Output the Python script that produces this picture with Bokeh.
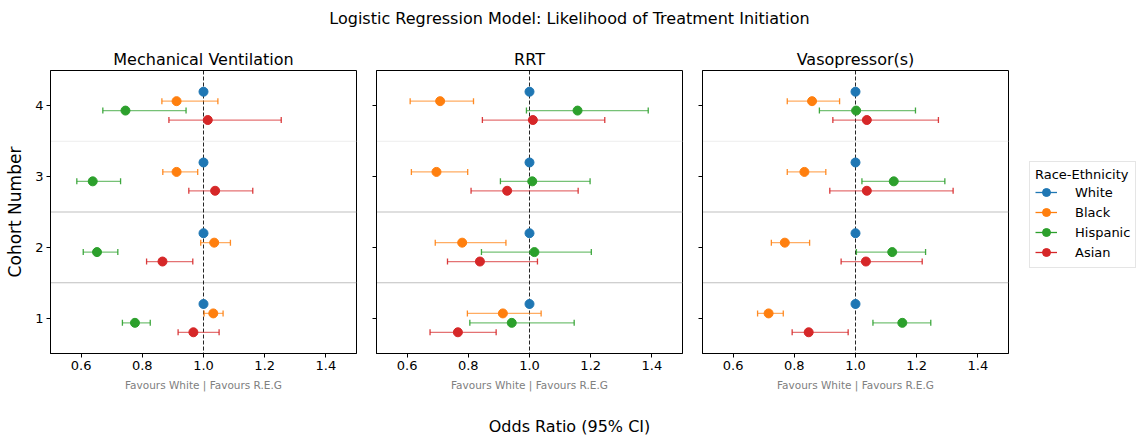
import numpy as np
from bokeh.plotting import figure
from bokeh.layouts import row, column
from bokeh.models import Range1d, Span, FixedTicker, Legend, LegendItem, ColumnDataSource
from bokeh.core.properties import value
from bokeh.embed import file_html
from bokeh.resources import INLINE

# ---------------- data ----------------
suptitle = "Logistic Regression Model: Likelihood of Treatment Initiation"
treatments = ["Mechanical Ventilation", "RRT", "Vasopressor(s)"]
races = ["White", "Black", "Hispanic", "Asian"]
colors = ["#1f77b4", "#ff7f0e", "#2ca02c", "#d62728"]
cohorts = [1, 2, 3, 4]
y_tick_labels = ["1", "2", "3", "4"]
x_ticks = [0.6, 0.8, 1.0, 1.2, 1.4]
x_tick_labels = ["0.6", "0.8", "1.0", "1.2", "1.4"]
x_label = "Odds Ratio (95% CI)"
y_label = "Cohort Number"
favours_text = "Favours White | Favours R.E.G"
legend_title = "Race-Ethnicity"

# values listed for cohort 1, 2, 3, 4
white_or = [1.0, 1.0, 1.0, 1.0]
white_lo = [1.0, 1.0, 1.0, 1.0]
white_hi = [1.0, 1.0, 1.0, 1.0]

mv_black_or = [1.032, 1.035, 0.912, 0.912]
mv_black_lo = [1.002, 0.991, 0.867, 0.864]
mv_black_hi = [1.064, 1.088, 0.981, 1.047]
mv_hisp_or = [0.776, 0.652, 0.638, 0.745]
mv_hisp_lo = [0.735, 0.607, 0.586, 0.671]
mv_hisp_hi = [0.826, 0.720, 0.729, 0.943]
mv_asian_or = [0.967, 0.866, 1.038, 1.014]
mv_asian_lo = [0.917, 0.814, 0.952, 0.887]
mv_asian_hi = [1.051, 0.965, 1.161, 1.254]

rrt_black_or = [0.913, 0.780, 0.696, 0.708]
rrt_black_lo = [0.797, 0.692, 0.614, 0.610]
rrt_black_hi = [1.038, 0.923, 0.798, 0.817]
rrt_hisp_or = [0.942, 1.016, 1.009, 1.157]
rrt_hisp_lo = [0.805, 0.843, 0.905, 0.990]
rrt_hisp_hi = [1.146, 1.202, 1.198, 1.388]
rrt_asian_or = [0.766, 0.838, 0.927, 1.011]
rrt_asian_lo = [0.675, 0.732, 0.809, 0.846]
rrt_asian_hi = [0.891, 1.026, 1.159, 1.246]

vp_black_or = [0.716, 0.769, 0.833, 0.858]
vp_black_lo = [0.680, 0.725, 0.777, 0.777]
vp_black_hi = [0.764, 0.850, 0.903, 0.948]
vp_hisp_or = [1.153, 1.120, 1.125, 1.002]
vp_hisp_lo = [1.057, 1.003, 1.021, 0.882]
vp_hisp_hi = [1.246, 1.229, 1.292, 1.196]
vp_asian_or = [0.847, 1.034, 1.037, 1.037]
vp_asian_lo = [0.793, 0.953, 0.916, 0.926]
vp_asian_hi = [0.976, 1.218, 1.319, 1.271]

panel_data = [
    [(white_or, white_lo, white_hi), (mv_black_or, mv_black_lo, mv_black_hi),
     (mv_hisp_or, mv_hisp_lo, mv_hisp_hi), (mv_asian_or, mv_asian_lo, mv_asian_hi)],
    [(white_or, white_lo, white_hi), (rrt_black_or, rrt_black_lo, rrt_black_hi),
     (rrt_hisp_or, rrt_hisp_lo, rrt_hisp_hi), (rrt_asian_or, rrt_asian_lo, rrt_asian_hi)],
    [(white_or, white_lo, white_hi), (vp_black_or, vp_black_lo, vp_black_hi),
     (vp_hisp_or, vp_hisp_lo, vp_hisp_hi), (vp_asian_or, vp_asian_lo, vp_asian_hi)],
]

# ---------------- styling ----------------
FONT = "DejaVu Sans"
FRAME_W, FRAME_H = 306, 283
TOP_B, BOT_B = 30, 47
TOTAL_W = 1138


def make_panel(title, data, first):
    p = figure(frame_width=FRAME_W, frame_height=FRAME_H,
               x_range=Range1d(0.5, 1.5), y_range=Range1d(0.5, 4.5),
               output_backend="svg", toolbar_location=None,
               min_border_top=TOP_B, min_border_bottom=BOT_B,
               min_border_left=50 if first else 10, min_border_right=10,
               background_fill_color="white", border_fill_color="white")
    p.title.text = title
    p.title.align = "center"
    p.title.text_font = FONT
    p.title.text_font_size = "16px"
    p.title.text_font_style = "normal"
    p.title.text_color = "black"
    p.title.standoff = 4
    for g in p.grid:
        g.visible = False
    p.outline_line_color = "black"
    p.outline_line_width = 1
    for ax in list(p.xaxis) + list(p.yaxis):
        ax.axis_line_color = "black"
        ax.major_tick_line_color = "black"
        ax.major_tick_in = 0
        ax.major_tick_out = 4
        ax.minor_tick_line_color = None
        ax.major_label_text_font = FONT
        ax.major_label_text_font_size = "13px"
        ax.major_label_text_color = "black"
        ax.major_label_standoff = 3
    p.xaxis.ticker = FixedTicker(ticks=x_ticks)
    p.xaxis.major_label_overrides = dict(zip(x_ticks, x_tick_labels))
    p.xaxis.axis_label = favours_text
    p.xaxis.axis_label_text_font = FONT
    p.xaxis.axis_label_text_font_size = "10.5px"
    p.xaxis.axis_label_text_font_style = "normal"
    p.xaxis.axis_label_text_color = "#808080"
    p.xaxis.axis_label_standoff = 6
    p.yaxis.ticker = FixedTicker(ticks=cohorts)
    if first:
        p.yaxis.major_label_overrides = dict(zip(cohorts, y_tick_labels))
        p.yaxis.axis_label = y_label
        p.yaxis.axis_label_text_font = FONT
        p.yaxis.axis_label_text_font_size = "17px"
        p.yaxis.axis_label_text_font_style = "normal"
        p.yaxis.axis_label_text_color = "black"
        p.yaxis.axis_label_standoff = 7
    else:
        p.yaxis.major_label_overrides = {c: "" for c in cohorts}
        p.yaxis.major_label_standoff = 0

    # cohort separators
    for c in cohorts[:-1]:
        col = "#ededed" if c == 3 else "#bfbfbf"
        p.add_layout(Span(location=c + 0.5, dimension="width", line_color=col,
                          line_width=1, level="underlay"))
    # reference line at OR = 1
    p.add_layout(Span(location=1.0, dimension="height", line_color="black",
                      line_alpha=0.85, line_width=1, line_dash="4 2", level="underlay"))

    offsets = np.linspace(0.2, -0.2, len(races))
    for i, (est, lo, hi) in enumerate(data):
        y = np.array(cohorts, dtype=float) + offsets[i]
        src = ColumnDataSource(dict(y=y, est=est, lo=lo, hi=hi))
        c = colors[i]
        p.segment(x0="lo", y0="y", x1="hi", y1="y", source=src,
                  line_color=c, line_width=1.3, line_alpha=0.65)
        p.scatter(x="lo", y="y", source=src, marker="dash", angle=np.pi / 2, size=6,
                  line_color=c, line_width=1.3, line_alpha=0.9)
        p.scatter(x="hi", y="y", source=src, marker="dash", angle=np.pi / 2, size=6,
                  line_color=c, line_width=1.3, line_alpha=0.9)
        p.scatter(x="est", y="y", source=src, marker="circle", size=9,
                  fill_color=c, line_color=c)
    return p


panels = [make_panel(t, d, i == 0) for i, (t, d) in enumerate(zip(treatments, panel_data))]

# legend figure (to the right of the panels)
used_w = (50 + FRAME_W + 10) + 2 * (10 + FRAME_W + 10)
leg_w = TOTAL_W - used_w
leg = figure(frame_width=leg_w, frame_height=FRAME_H,
             min_border_left=0, min_border_right=0,
             min_border_top=TOP_B, min_border_bottom=BOT_B,
             x_range=Range1d(0, 1), y_range=Range1d(0, 1),
             x_axis_location=None, y_axis_location=None,
             output_backend="svg", toolbar_location=None,
             outline_line_color=None)
for g in leg.grid:
    g.visible = False
items = []
for race, c in zip(races, colors):
    src = ColumnDataSource(dict(x=[np.nan], y=[np.nan]))
    r1 = leg.line("x", "y", source=src, line_color=c, line_width=1.3)
    r2 = leg.scatter("x", "y", source=src, marker="circle", size=8,
                     fill_color=c, line_color=c)
    items.append(LegendItem(label=race, renderers=[r1, r2]))
legend = Legend(items=items, title=legend_title, location=(11, 85), margin=0,
                padding=5, spacing=0, glyph_width=22, glyph_height=20,
                label_height=16, label_standoff=18, title_standoff=0,
                label_text_font=FONT, label_text_font_size="13px",
                label_text_color="black",
                title_text_font=FONT, title_text_font_size="13px",
                title_text_font_style="normal", title_text_color="black",
                border_line_color="#cccccc", border_line_width=1,
                background_fill_color="white", background_fill_alpha=1.0)
leg.add_layout(legend)

# super title
top = figure(width=TOTAL_W, height=40, x_range=Range1d(0, 1), y_range=Range1d(0, 40),
             x_axis_location=None, y_axis_location=None, min_border=0,
             outline_line_color=None, toolbar_location=None, output_backend="svg")
for g in top.grid:
    g.visible = False
top.text(x=[0.5], y=[22], text=[suptitle], text_align="center", text_baseline="middle",
         text_font=value(FONT), text_font_size="16px", text_color="black")

# shared x label
bottom = figure(width=TOTAL_W, height=38, x_range=Range1d(0, 1), y_range=Range1d(0, 38),
                x_axis_location=None, y_axis_location=None, min_border=0,
                outline_line_color=None, toolbar_location=None, output_backend="svg")
for g in bottom.grid:
    g.visible = False
bottom.text(x=[0.5], y=[12], text=[x_label], text_align="center", text_baseline="middle",
            text_font=value(FONT), text_font_size="16px", text_color="black")

layout = column(top, row(*panels, leg), bottom)

open("out.html", "w").write(file_html(layout, INLINE))
